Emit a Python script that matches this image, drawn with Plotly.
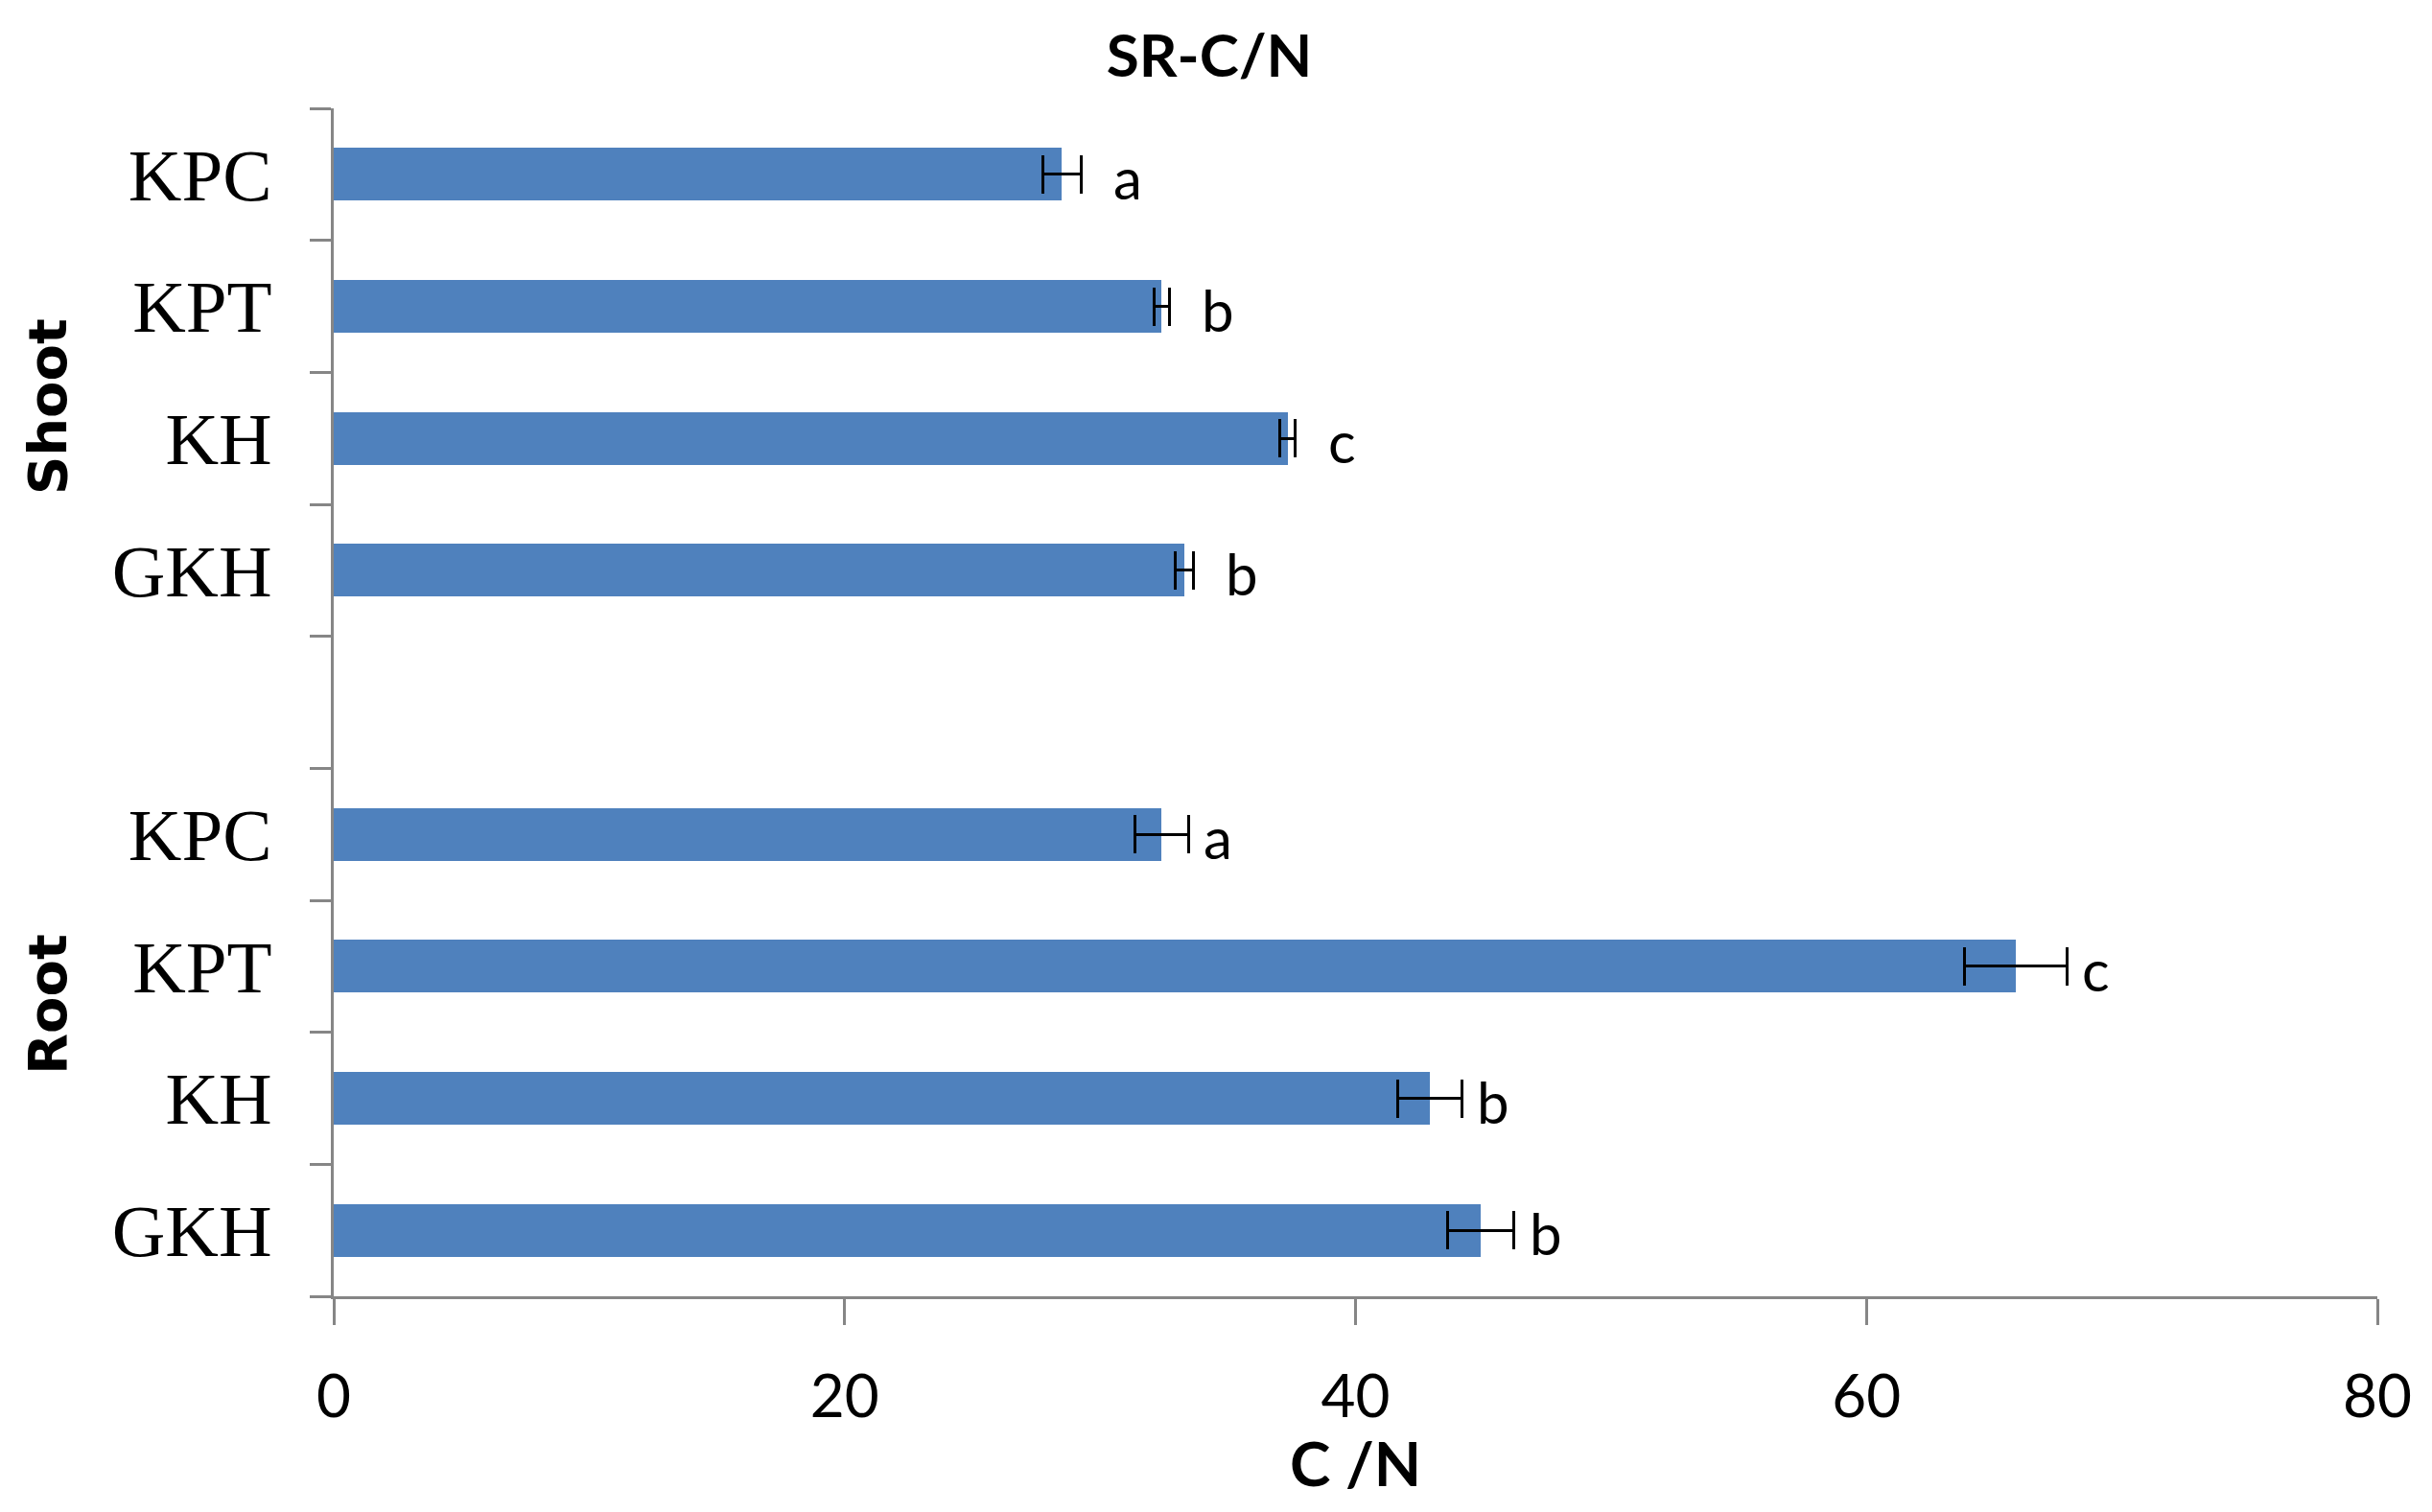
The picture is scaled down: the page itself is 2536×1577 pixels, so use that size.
import plotly.graph_objects as go

# ---- data ----
shoot_labels = ["KPC", "KPT", "KH", "GKH"]
shoot_values = [28.5, 32.4, 37.35, 33.3]
shoot_err = [0.75, 0.3, 0.3, 0.35]
shoot_letters = ["a", "b", "c", "b"]

root_labels = ["KPC", "KPT", "KH", "GKH"]
root_values = [32.4, 65.85, 42.9, 44.9]
root_err = [1.05, 2.0, 1.25, 1.3]
root_letters = ["a", "c", "b", "b"]

group_names = ["Shoot", "Root"]
x_ticks = [0, 20, 40, 60, 80]

# ---- layout of category slots (shoot, one blank slot, root) ----
n_s = len(shoot_labels)
shoot_pos = list(range(n_s))
root_pos = [n_s + 1 + i for i in range(len(root_labels))]
n_slots = n_s + 1 + len(root_labels)

BLUE = "#4F81BD"
AXIS = "#868686"
PAGE_OFFSET = 8  # default body margin of the html page
W, H = 2536 - PAGE_OFFSET, 1577 - PAGE_OFFSET

fig = go.Figure()
fig.add_trace(go.Bar(
    y=shoot_pos + root_pos,
    x=shoot_values + root_values,
    orientation="h",
    width=0.4,
    marker=dict(color=BLUE, line=dict(width=0)),
    error_x=dict(type="data", array=shoot_err + root_err, visible=True,
                 color="black", thickness=3, width=20),
    showlegend=False,
    hoverinfo="x+y",
))

annotations = []
for vals, errs, lets, pos, shift in [
    (shoot_values, shoot_err, shoot_letters, shoot_pos, 32),
    (root_values, root_err, root_letters, root_pos, 14),
]:
    for v, e, l, p in zip(vals, errs, lets, pos):
        annotations.append(dict(
            x=v + e, y=p, xref="x", yref="y", text=l, showarrow=False,
            xanchor="left", yanchor="middle", xshift=shift, yshift=-3,
            font=dict(family="Lato", size=60, color="black"),
        ))

# group labels
for name, ypaper in zip(group_names, [0.749, 0.2454]):
    annotations.append(dict(
        x=-0.1398, y=ypaper, xref="paper", yref="paper", text=f"<b>{name}</b>",
        showarrow=False, textangle=-90, xanchor="center", yanchor="middle",
        font=dict(family="DejaVu Sans", size=56, color="black"),
    ))

# x-axis title
annotations.append(dict(
    x=0.5, y=-0.1404, xref="paper", yref="paper", text="<b>C /N</b>",
    showarrow=False, xanchor="center", yanchor="middle",
    font=dict(family="Lato", size=64, color="black"),
))

boundaries = [i - 0.5 for i in range(n_slots + 1)]

fig.update_layout(
    width=W, height=H,
    margin=dict(l=340, r=57, t=105, b=225, autoexpand=False),
    paper_bgcolor="white", plot_bgcolor="white",
    title=dict(text="<b>SR-C/N</b>", x=1253 / W, xref="container", xanchor="center",
               y=1 - 50 / H, yref="container", yanchor="middle",
               font=dict(family="Lato", size=62, color="black")),
    annotations=annotations,
    bargap=0,
)

fig.update_xaxes(
    range=[0, 80], tickvals=x_ticks, ticktext=[str(t) for t in x_ticks],
    showgrid=False, zeroline=False, automargin=False,
    showline=True, linecolor=AXIS, linewidth=3,
    ticks="outside", ticklen=27, tickwidth=3, tickcolor=AXIS,
    ticklabelstandoff=22,
    tickfont=dict(family="Lato", size=62, color="black"),
)

fig.update_yaxes(
    range=[n_slots - 0.5, -0.5],
    tickvals=shoot_pos + root_pos, ticktext=shoot_labels + root_labels,
    showgrid=False, zeroline=False, automargin=False,
    showline=True, linecolor=AXIS, linewidth=3,
    ticks="", ticklabelstandoff=46,
    tickfont=dict(family="Liberation Serif", size=77, color="black"),
    minor=dict(tickvals=boundaries, ticks="outside", ticklen=22,
               tickwidth=3, tickcolor=AXIS, showgrid=False),
)

fig.write_html("out.html")
